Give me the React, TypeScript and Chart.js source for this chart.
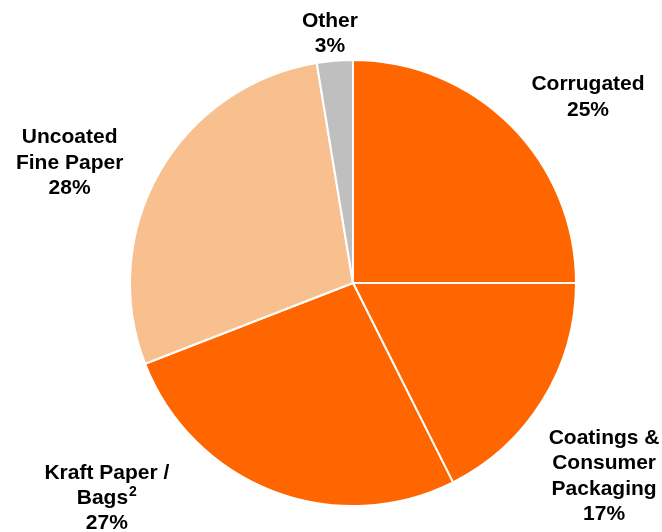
import React, { useEffect, useRef } from "react";
import { Chart, registerables } from "chart.js";

Chart.register(...registerables);

const categories = ["Corrugated", "Coatings & Consumer Packaging", "Kraft Paper / Bags", "Uncoated Fine Paper", "Other"];
const shares = [25, 17.6, 26.5, 28.3, 2.6];
const percentLabels = ["25%", "17%", "27%", "28%", "3%"];
const labelLines = [
  ["Corrugated"],
  ["Coatings &", "Consumer", "Packaging"],
  ["Kraft Paper /", "Bags^2"],
  ["Uncoated", "Fine Paper"],
  ["Other"],
];
const sliceColors = ["#FF6600", "#FF6600", "#FF6600", "#F9C08F", "#BFBFBF"];
// label block centers, in units of the pie radius, relative to the pie center
const labelOffsets = [
  [1.049, -0.83],
  [1.121, 0.862],
  [-1.099, 0.96],
  [-1.265, -0.537],
  [-0.103, -1.112],
];

const FONT = "'Liberation Sans', Arial, sans-serif";

const labelPlugin = {
  id: "sliceLabels",
  afterDraw(chart: any) {
    const meta = chart.getDatasetMeta(0);
    const ctx = chart.ctx;
    ctx.save();
    ctx.fillStyle = "#000";
    ctx.textBaseline = "middle";
    const lh = 25.3;
    meta.data.forEach((arc: any, i: number) => {
      const r = arc.outerRadius + 1;
      const cx = arc.x + labelOffsets[i][0] * r;
      const cy = arc.y + labelOffsets[i][1] * r;
      const lines = [...labelLines[i], percentLabels[i]];
      const top = cy - ((lines.length - 1) * lh) / 2;
      lines.forEach((t, k) => {
        const y = top + k * lh;
        const [base, sup] = t.split("^");
        ctx.font = "bold 21px " + FONT;
        const wb = ctx.measureText(base).width;
        let ws = 0;
        if (sup) {
          ctx.font = "bold 14px " + FONT;
          ws = ctx.measureText(sup).width + 1;
        }
        const x0 = cx - (wb + ws) / 2;
        ctx.textAlign = "left";
        ctx.font = "bold 21px " + FONT;
        ctx.fillText(base, x0, y);
        if (sup) {
          ctx.font = "bold 14px " + FONT;
          ctx.fillText(sup, x0 + wb + 1, y - 6);
        }
      });
    });
    ctx.restore();
  },
};

export default function App() {
  const ref = useRef<HTMLCanvasElement>(null);
  useEffect(() => {
    if (!ref.current) return;
    const chart = new Chart(ref.current, {
      type: "pie",
      data: {
        labels: categories,
        datasets: [
          {
            data: shares,
            backgroundColor: sliceColors,
            borderColor: "#FFFFFF",
            borderWidth: 2,
          },
        ],
      },
      options: {
        animation: false,
        responsive: true,
        maintainAspectRatio: false,
        layout: { padding: { left: 129, right: 85, top: 59, bottom: 25 } },
        plugins: {
          legend: { display: false },
          tooltip: { enabled: false },
        },
      },
      plugins: [labelPlugin],
    });
    return () => chart.destroy();
  }, []);
  return (
    <div style={{ position: "absolute", left: 0, top: 0, width: 662, height: 532 }}>
      <canvas ref={ref} />
    </div>
  );
}
